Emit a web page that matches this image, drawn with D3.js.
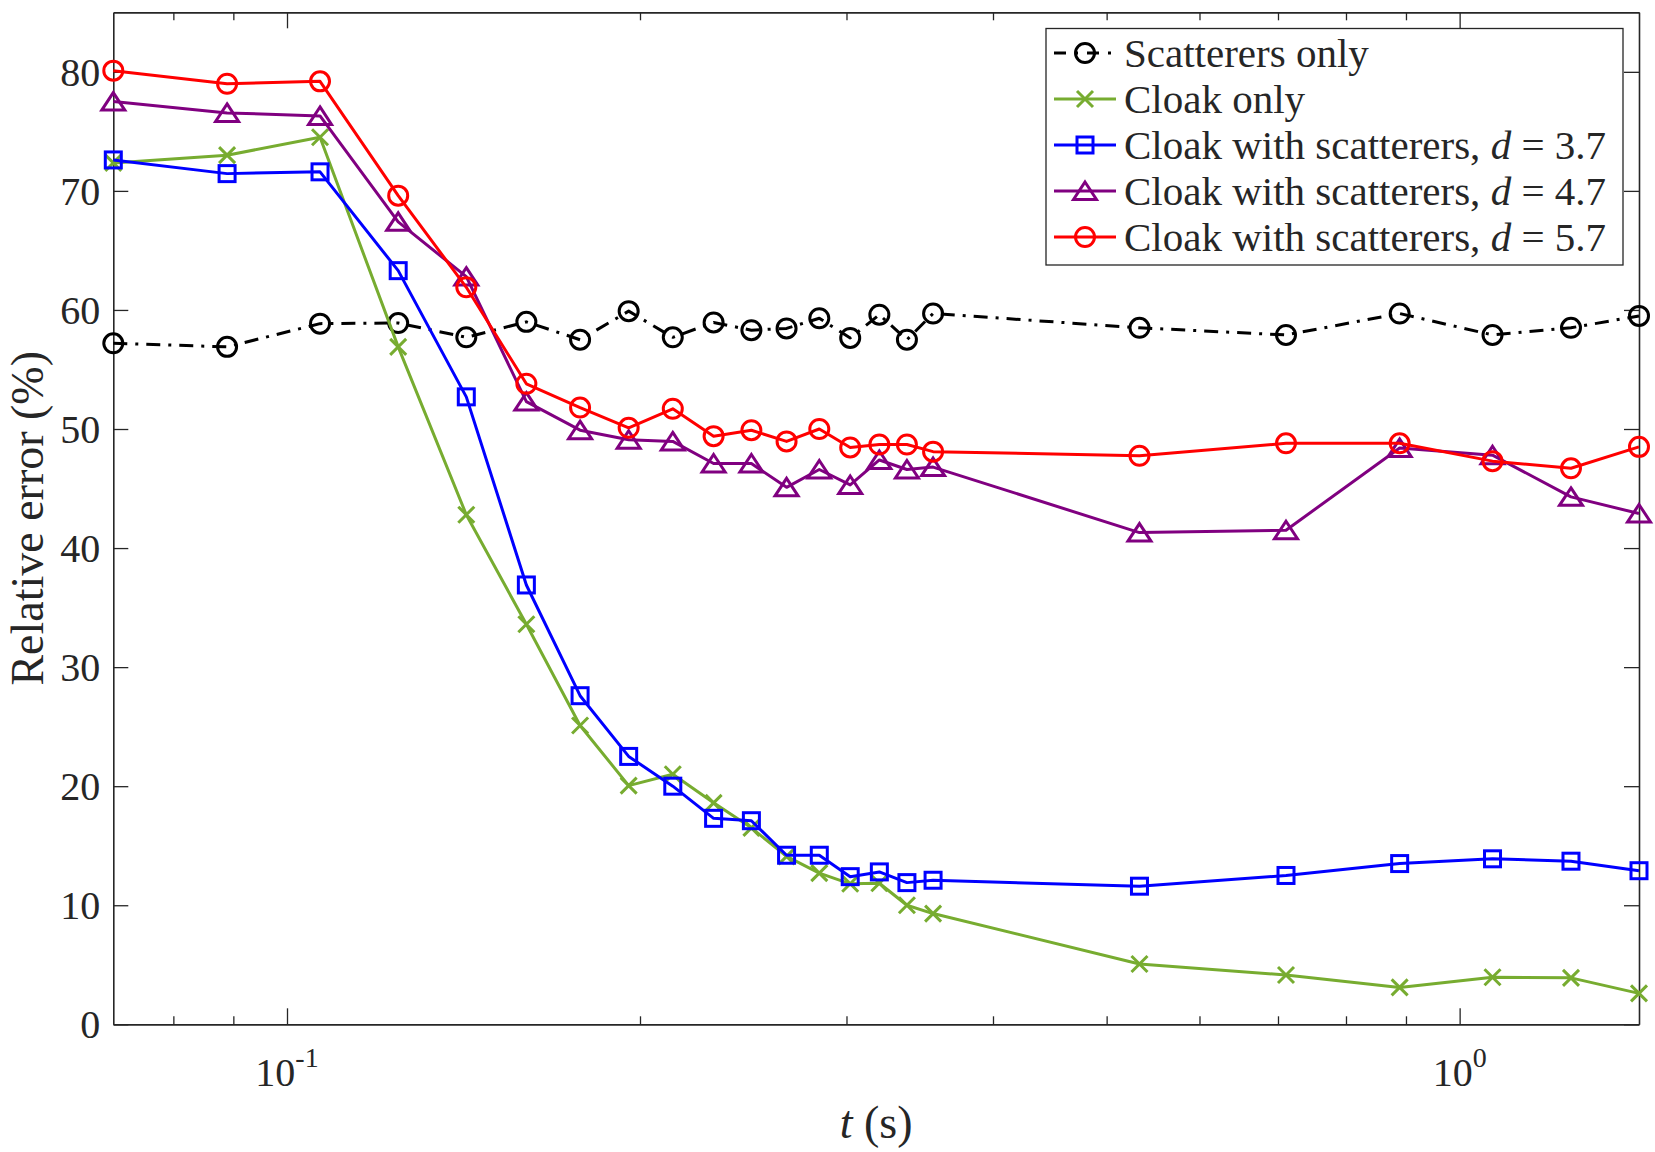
<!DOCTYPE html>
<html>
<head>
<meta charset="utf-8">
<script src="https://cdn.jsdelivr.net/npm/d3@7"></script>
<style>
  body { margin: 0; background: #fff; }
  svg text { font-family: "Liberation Serif", "Times New Roman", serif; fill: #262626; }
</style>
</head>
<body>
<div id="chart"></div>
<script>
// time samples (s)
const tValues = [0.0711, 0.0889, 0.1067, 0.1244, 0.1422, 0.16, 0.1778, 0.1956, 0.2133, 0.2311,
  0.2489, 0.2667, 0.2844, 0.3022, 0.32, 0.3378, 0.3556, 0.5333, 0.7111, 0.8889, 1.0667, 1.2444, 1.4222];

// relative error (%) per configuration
const scatterersOnly = [57.2, 56.9, 58.85, 58.9, 57.7, 59.0, 57.5, 59.9, 57.7, 58.95, 58.3, 58.45,
  59.3, 57.65, 59.6, 57.5, 59.7, 58.5, 57.9, 59.7, 57.9, 58.5, 59.5];
const cloakOnly = [72.35, 73.0, 74.5, 56.9, 42.8, 33.6, 25.1, 20.05, 21.0, 18.6, 16.5, 14.1,
  12.7, 11.8, 11.85, 10.0, 9.3, 5.07, 4.14, 3.1, 3.95, 3.9, 2.6];
const cloakD37 = [72.6, 71.45, 71.6, 63.3, 52.7, 36.9, 27.6, 22.5, 20.0, 17.3, 17.1, 14.2,
  14.2, 12.4, 12.8, 11.9, 12.1, 11.6, 12.5, 13.5, 13.9, 13.7, 12.9];
const cloakD47 = [77.5, 76.55, 76.3, 67.4, 62.8, 52.3, 49.9, 49.1, 48.96, 47.1, 47.1, 45.1,
  46.6, 45.3, 47.4, 46.6, 46.8, 41.3, 41.5, 48.4, 47.8, 44.3, 42.9];
const cloakD57 = [80.1, 79.0, 79.2, 69.6, 61.9, 53.8, 51.8, 50.1, 51.7, 49.4, 49.9, 48.96,
  50.0, 48.45, 48.7, 48.7, 48.1, 47.75, 48.8, 48.8, 47.3, 46.7, 48.5];

const legendLabels = ["Scatterers only", "Cloak only", "Cloak with scatterers, d = 3.7",
  "Cloak with scatterers, d = 4.7", "Cloak with scatterers, d = 5.7"];
const yTicks = [0, 10, 20, 30, 40, 50, 60, 70, 80];
const xMajorTicks = [0.1, 1];
const xMinorTicks = [0.08, 0.09, 0.2, 0.3, 0.4, 0.5, 0.6, 0.7, 0.8, 0.9];

const series = [
  {name: legendLabels[0], values: scatterersOnly, color: "#000000", marker: "o", dash: "14,8,3,8"},
  {name: legendLabels[1], values: cloakOnly, color: "#77AC30", marker: "x", dash: null},
  {name: legendLabels[2], values: cloakD37, color: "#0000FF", marker: "s", dash: null},
  {name: legendLabels[3], values: cloakD47, color: "#800080", marker: "^", dash: null},
  {name: legendLabels[4], values: cloakD57, color: "#FF0000", marker: "o", dash: null}
];

const W = 1655, H = 1152;
const margin = {top: 12.3, right: 16, bottom: 127.7, left: 113.3};
const width = W - margin.left - margin.right;
const height = H - margin.top - margin.bottom;
const axisColor = "#262626";
const lineW = 3;

const svg = d3.select("#chart").append("svg")
  .attr("width", W)
  .attr("height", H);
const g = svg.append("g")
  .attr("transform", "translate(" + margin.left + "," + margin.top + ")");

const x = d3.scaleLog()
  .domain([tValues[0], tValues[tValues.length - 1]])
  .range([0, width]);
const y = d3.scaleLinear()
  .domain([0, 85])
  .range([height, 0]);

// axes, ticks pointing inward, box on
function styleAxis(sel) {
  sel.select(".domain").attr("stroke", axisColor).attr("stroke-width", 1.6);
  sel.selectAll(".tick line").attr("stroke", axisColor).attr("stroke-width", 1.3);
}
const bottomAx = g.append("g").attr("transform", "translate(0," + height + ")")
  .call(d3.axisBottom(x).tickValues(xMajorTicks).tickSize(-16).tickSizeOuter(0).tickFormat(""));
const topAx = g.append("g")
  .call(d3.axisTop(x).tickValues(xMajorTicks).tickSize(-16).tickSizeOuter(0).tickFormat(""));
const bottomMinor = g.append("g").attr("transform", "translate(0," + height + ")")
  .call(d3.axisBottom(x).tickValues(xMinorTicks).tickSize(-8).tickSizeOuter(0).tickFormat(""));
const topMinor = g.append("g")
  .call(d3.axisTop(x).tickValues(xMinorTicks).tickSize(-8).tickSizeOuter(0).tickFormat(""));
const leftAx = g.append("g")
  .call(d3.axisLeft(y).tickValues(yTicks).tickSize(-15).tickSizeOuter(0).tickPadding(13));
const rightAx = g.append("g").attr("transform", "translate(" + width + ",0)")
  .call(d3.axisRight(y).tickValues(yTicks).tickSize(-15).tickSizeOuter(0).tickFormat(""));
[bottomAx, topAx, bottomMinor, topMinor, leftAx, rightAx].forEach(styleAxis);
leftAx.attr("font-family", null);
leftAx.selectAll(".tick text")
  .attr("font-size", 40)
  .attr("fill", axisColor)
  .attr("dy", "0.34em");

// x tick labels as 10^n
const xLabelG = g.append("g").attr("transform", "translate(0," + height + ")");
xMajorTicks.forEach(v => {
  const txt = xLabelG.append("text")
    .attr("x", x(v))
    .attr("y", 62)
    .attr("text-anchor", "middle")
    .attr("font-size", 40);
  txt.append("tspan").text("10");
  txt.append("tspan")
    .attr("dy", -19)
    .attr("font-size", 28)
    .text(String(Math.round(Math.log10(v))));
});

// axis labels
g.append("text")
  .attr("transform", "translate(" + (-70) + "," + (height / 2) + ") rotate(-90)")
  .attr("text-anchor", "middle")
  .attr("font-size", 46)
  .text("Relative error (%)");
const xl = g.append("text")
  .attr("x", width / 2)
  .attr("y", height + 114)
  .attr("text-anchor", "middle")
  .attr("font-size", 46);
xl.append("tspan").attr("font-style", "italic").text("t");
xl.append("tspan").text(" (s)");

// markers
function drawMarker(sel, type, color) {
  if (type === "o") {
    sel.append("circle").attr("r", 9.5)
      .attr("fill", "none").attr("stroke", color).attr("stroke-width", lineW);
  } else if (type === "x") {
    sel.append("path").attr("d", "M-8,-8L8,8M-8,8L8,-8")
      .attr("fill", "none").attr("stroke", color).attr("stroke-width", lineW);
  } else if (type === "s") {
    sel.append("rect").attr("x", -8).attr("y", -8).attr("width", 16).attr("height", 16)
      .attr("fill", "none").attr("stroke", color).attr("stroke-width", lineW);
  } else if (type === "^") {
    sel.append("path").attr("d", "M0,-9L11.5,8.5L-11.5,8.5Z")
      .attr("fill", "none").attr("stroke", color).attr("stroke-width", lineW)
      .attr("stroke-linejoin", "miter");
  }
}

const line = d3.line()
  .x((d, i) => x(tValues[i]))
  .y(d => y(d));

const seriesG = g.append("g");
series.forEach(s => {
  const sg = seriesG.append("g");
  sg.append("path")
    .datum(s.values)
    .attr("fill", "none")
    .attr("stroke", s.color)
    .attr("stroke-width", lineW)
    .attr("stroke-linejoin", "round")
    .attr("stroke-dasharray", s.dash)
    .attr("d", line);
  sg.selectAll("g.mk")
    .data(s.values)
    .join("g")
    .attr("class", "mk")
    .attr("transform", (d, i) => "translate(" + x(tValues[i]) + "," + y(d) + ")")
    .each(function () { drawMarker(d3.select(this), s.marker, s.color); });
});

// legend
const legX = 1046 - margin.left, legY = 28.5 - margin.top;
const legW = 577, legH = 236.5, rowH = 46;
const leg = g.append("g").attr("transform", "translate(" + legX + "," + legY + ")");
leg.append("rect")
  .attr("width", legW).attr("height", legH)
  .attr("fill", "#fff").attr("stroke", axisColor).attr("stroke-width", 1.3);
series.forEach((s, i) => {
  const ry = 24.5 + i * rowH;
  const row = leg.append("g").attr("transform", "translate(0," + ry + ")");
  row.append("line")
    .attr("x1", 8).attr("x2", 70).attr("y1", 0).attr("y2", 0)
    .attr("stroke", s.color).attr("stroke-width", lineW)
    .attr("stroke-dasharray", s.dash ? "12,9,3,9" : null);
  drawMarker(row.append("g").attr("transform", "translate(39,0)"), s.marker, s.color);
  const t = row.append("text")
    .attr("x", 78).attr("y", 0).attr("dy", "0.33em")
    .attr("font-size", 41).attr("fill", "#000");
  const parts = s.name.split(", d = ");
  if (parts.length === 2) {
    t.append("tspan").text(parts[0] + ", ");
    t.append("tspan").attr("font-style", "italic").text("d");
    t.append("tspan").text(" = " + parts[1]);
  } else {
    t.text(s.name);
  }
});
</script>
</body>
</html>
